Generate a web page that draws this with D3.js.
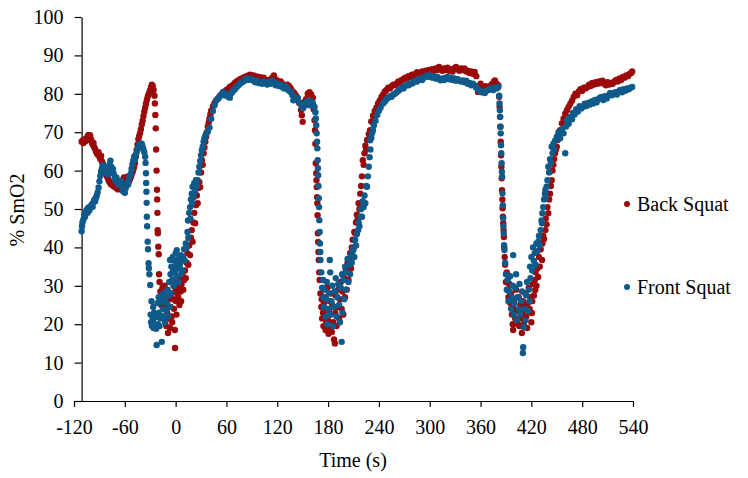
<!DOCTYPE html>
<html>
<head>
<meta charset="utf-8">
<script src="https://cdn.jsdelivr.net/npm/d3@7"></script>
<style>
  body { margin: 0; background: #fff; }
  text { font-family: "Palatino Linotype", "Book Antiqua", Palatino, "Liberation Serif", serif; }
</style>
</head>
<body>
<svg id="chart" width="748" height="478"></svg>
<script>
// [time (s), % SmO2]
const backSquat = [
  [-111,67.5],[-110,67.8],[-109,67.2],[-108,68.0],[-107,67.6],[-106,68.3],[-105,67.9],[-104,68.8],[-103,69.3],[-102,68.6],
  [-101,69.2],[-100,68.2],[-99,67.5],[-98,66.8],[-97,67.2],[-96,66.0],[-95,65.6],[-94,65.0],[-93,64.6],[-92,64.2],
  [-91,64.8],[-90,63.6],[-89,63.0],[-88,63.8],[-87,62.4],[-86,61.8],[-85,61.0],[-84,60.2],[-83,59.6],[-82,59.0],
  [-81,58.6],[-80,58.0],[-79,57.4],[-78,57.0],[-77,56.7],[-76,56.4],[-75,56.8],[-74,56.2],[-73,55.9],[-72,56.3],
  [-71,55.6],[-70,55.8],[-69,55.4],[-68,55.1],[-67,55.6],[-66,55.3],[-65,55.9],[-64,56.4],[-63,57.0],[-62,57.6],
  [-61,58.2],[-60,57.4],[-59,57.0],[-58,57.8],[-57,58.4],[-56,57.6],[-55,57.2],[-54,57.8],[-53,58.3],[-52,59.0],
  [-51,59.6],[-50,60.2],[-49,61.0],[-48,62.0],[-47,63.6],[-46,65.4],[-45,66.8],[-44,68.2],[-43,69.0],[-42,69.8],
  [-41,70.8],[-40,72.0],[-39,73.0],[-38,74.2],[-37,75.4],[-36,76.4],[-35,77.4],[-34,78.4],[-33,79.2],[-32,79.8],
  [-31,80.4],[-30,81.0],[-29,81.8],[-28,82.4],[-27,82.0],[-26,81.0],
  [-25,79.5],[-24.5,77.5],[-24,74.5],[-23.5,71],[-23,65.5],[-22.5,60],[-22,55],[-21.8,52.5],[-21.5,49],[-21.2,44.5],
  [-21,43.7],[-20.5,40.2],[-20,38.2],[-19.6,33],[-19,31],
  [-18,28.5],[-17,25],[-16,22],[-15.5,29.5],[-15,26],[-14,24],[-13,30],[-12.5,21],[-12,27.5],[-11,19.5],
  [-10.5,25],[-10,23],[-9,17.7],[-8.5,26.5],[-8,21.5],[-7,27],[-6.5,19],[-6,24.5],[-5,28],[-4.5,22],
  [-4,20.5],[-3,26.5],[-2.5,30],[-2,24],[-1,18.5],[-0.7,13.8],[0,29],[0.5,26],[1,22.5],[2,28],
  [2.5,31],[3,27],[4,30],[4.5,25],[5,32],[6,28.5],[6.5,26],[7,30.5],[8,33],[9,29],
  [10,31.5],[11,34],[12,32],[13,36],[14,38.5],[15,35.5],[16,40.5],[17,38],[18,42.5],[19,44.5],
  [20,41.5],[21,46.5],[22,49],[23,46.3],[24,51],[25,53.5],[26,51.5],[27,55.5],[28,57],[29,55.7],
  [30,59.5],[31,62.7],[32,61.5],[33,64.5],[34,66],[35,67.5],[36,68.8],[37,70],[38,71.5],[39,72.5],
  [40,73.5],[41,74.6],[42,75.6],[44,76.8],[46,77.6],[48,78.3],[50,78.8],[52,79.4],[54,79.8],[56,80.2],
  [58,80.6],[60,81.0],[62,81.2],[64,81.8],[66,82.0],[68,82.4],[70,82.8],[72,83.2],[74,83.5],[76,83.8],
  [78,84.0],[80,84.2],[82,84.4],[84,84.6],[86,84.8],[88,85.0],[90,84.6],[92,84.8],[94,84.2],[96,84.5],
  [98,84.0],[100,84.3],[102,83.8],[104,84.2],[106,83.6],[108,83.2],[110,83.6],[112,83.0],[114,84.2],[116,84.8],
  [118,83.8],[120,83.4],[122,82.8],[124,83.2],[126,82.6],[128,82.0],[130,81.6],[132,82.4],[134,82.0],[136,81.4],
  [138,80.6],[140,80.2],[142,79.6],[144,78.8],[146,77.6],[148,75.8],[149,74.4],[150,72.7],[151,76.5],[152,77.8],
  [154,78.6],[156,80.0],[158,80.4],[160,79.8],[162,79.0],[163,76.0],
  [164,73.1],[164.5,70.5],[165,67],[165.5,61.9],[166,59.3],[166.3,57.5],[166.6,55.7],[167,53.1],[167.3,51.5],[167.6,48.4],
  [168,43.7],[168.3,41.4],[168.6,38.8],[169,36.7],[169.5,33.5],[170,31.5],
  [171,28],[172,24.5],[172.5,26.5],[173,21.5],[174,23],[174.5,19.5],[175,25.5],[176,22],[176.5,27],[177,18.5],
  [178,20.5],[178.5,24],[179,29.5],[180,21],[180.5,17.5],[181,23.5],[182,26],[182.5,19],[183,22.5],[184,28],
  [184.5,18],[185,25],[186,20.5],[187,16],[188,15],[188.5,23],[189,27.5],[190,19.5],[191,24.5],[192,29],
  [193,21.5],[194,26.5],[195,31],[196,24],[197,28.5],[198,22.5],[199,32],[200,27],[201,34],[202,29],
  [203,36],[204,31.5],[205,37],[206,38.5],[207,34.5],[208,40],[209,42],[210,39.5],[211,44],[212,43.7],
  [213,46.5],[214,48.5],[215,47.3],[216,51.5],[217,50],[218,54],[219,56],[220,58.5],[221,62.7],[222,61.5],
  [223,64.5],[224,66.5],[225,65.5],[226,68],[228,69.5],[229.6,70.5],[231,72.8],[233,74.3],[235,75.5],[237,76.4],
  [239,77.5],[241,78.3],[243,79.2],[245,79.8],[247,80.6],[249,81.0],[251,81.6],[253,81.4],[255,82.0],[257,82.4],
  [259,82.2],[261,82.7],[263,83.2],[265,83.0],[267,83.6],[269,83.8],[271,84.2],[273,84.0],[275,84.6],[277,84.4],
  [279,85.0],[281,84.8],[283,85.2],[285,85.6],[287,85.0],[289,85.3],[291,85.8],[293,85.4],[295,86.0],[297,85.6],
  [299,86.2],[301,85.8],[303,86.4],[305,86.0],[307,86.6],[309,86.2],[311,87.0],[313,86.4],[315,86.0],[317,86.6],
  [319,86.2],[321,86.8],[323,86.0],[325,86.4],[327,85.8],[329,86.6],[331,87.0],[333,86.4],[335,86.0],[337,86.6],
  [339,86.2],[341,86.6],[343,85.8],[345,86.0],[347,85.4],[349,85.8],[351,85.2],[353,85.7],[355,84.6],[357,80.5],
  [358,82.0],[360,82.6],[362,81.8],[364,81.4],[366,82.0],[368,81.6],[370,81.8],[372,82.2],[374,82.6],[376,83.2],
  [377,83.5],[379,82.6],[381,82.2],
  [382,79.2],[382.5,76.6],[383,74],[383.4,71.4],[383.8,67.5],[384.2,64],[384.6,61],[385,58],[385.4,54.9],[385.8,52.5],
  [386,50.2],[386.4,48],[386.8,46.3],[387.2,44.5],[387.6,42.7],[388,40],[388.5,37.5],
  [389,35.5],[390,31],[391,33.5],[392,29],[393,27],[394,30.5],[395,25.5],[396,28],[397,22.5],[398,20],
  [398.5,18.5],[399,24],[400,26.5],[401,21.5],[402,29],[403,23.5],[404,20],[405,27],[406,19.5],[407,25],
  [408,21.5],[408.8,17.7],[409.5,23],[410,26],[411,20],[412,24.5],[413,28],[414,22],[415,19],[416,25.5],
  [417,29.5],[418,24],[419,27],[420,20.5],[420.6,22.9],[421,26],[422,30.5],[423,27.5],[424,31.5],[424.6,28.9],
  [425,33.5],[426,30],[427,34.5],[428,32.3],[429,37.5],[430,35],[431,39.5],[432.6,36.7],[433,41],[434,43],
  [435,42.2],[436.6,44.5],[437,47.5],[438,46],[439,50.5],[440,48.9],[441,52.5],[442,54],[443,56],[444,57.5],
  [445,60],[446,61.5],[447,63],[448,64.5],[449,65.5],[450,66.2],[451,68],[452,69],[454,70.5],[456,72.3],
  [458,73.5],[460,74.8],[462,75.7],[464,76.6],[466,77.4],[468,78.2],[470,79.2],[472,80],[474,79.6],[476,80.6],
  [478,81.2],[480,80.8],[482,81.6],[484,81.4],[486,81.8],[488,82.4],[490,82],[492,82.8],[494,82.4],[496,83],
  [498,82.6],[500,83.2],[502,82.8],[504,83.4],[506,82.6],[508,82.2],[510,83],[512,82.4],[514,82.8],[516,82.6],
  [518,83.2],[520,83.6],[522,83.2],[524,84],[526,83.6],[528,84.4],[530,84.2],[532,84.8],[534,84.6],[536,85.2],
  [538,85.4],[539,85.8]
];

const frontSquat = [
  [-111,44.2],[-110.5,45.5],[-110,46.5],[-109,47.2],[-108,48.4],[-107,48.0],[-106,49.2],[-105,49.8],[-104,49.0],[-103,50.4],
  [-102,49.6],[-101,50.2],[-100,50.8],[-99,51.2],[-98,50.6],[-97,51.8],[-96,52.4],[-95,52.0],[-94,53.0],[-93,53.6],
  [-92,54.4],[-91,55.6],[-90,57.2],[-89,58.6],[-88,59.8],[-87,60.6],[-86,61.4],[-85,60.2],[-84,59.4],[-83,60.8],
  [-82,59.6],[-81,60.0],[-80,59.0],[-79,60.6],[-78,61.6],[-77,62.6],[-76,61.0],[-75,59.8],[-74,60.4],[-73,59.2],
  [-72,58.0],[-71,57.4],[-70,58.2],[-69,57.0],[-68,56.4],[-67,57.2],[-66,56.6],[-65,57.4],[-64,56.2],[-63,55.6],
  [-62,54.6],[-61,55.2],[-60,54.2],[-59,55.4],[-58,56.2],[-57,57.0],[-56,56.4],[-55,57.8],[-54,58.6],[-53,59.2],
  [-52,60.4],[-51,61.6],[-50,62.6],[-49,63.6],[-48,62.8],[-47,64.2],[-46,64.8],[-45,65.4],[-44,66.0],[-43,66.6],
  [-42,67.0],[-41,66.4],[-40,67.0],[-39,66.2],[-38,65.6],[-37,64.8],[-36,63.6],[-35.5,62.0],
  [-35,59.3],[-34.8,56.8],[-34.5,54.5],[-34.2,51.6],[-34,48],[-33.6,45.5],[-33,41.5],[-32.6,39.5],[-32,35.9],[-31.6,34.6],
  [-31,33],
  [-30,30.2],[-29.5,22.5],[-29,20.5],[-28.5,26],[-28,19.5],[-27.5,22],[-27,21],[-26.5,24.5],[-26,19],[-25.5,23],
  [-25,20],[-24,21.8],[-23,18.8],[-22.4,14.6],[-22,22.5],[-21.5,25.5],[-21,20],[-20,27],[-19.5,23],[-19,19.5],
  [-18,21.5],[-17,25.8],[-16.4,15.4],[-16,26.3],[-15,24],[-14.5,28],[-14,22],[-13,26.5],[-12.5,20.5],[-12,27],
  [-11,23.5],[-10,25.5],[-9.5,29],[-9,22],[-8,27.5],[-7.5,31],[-7,24.5],[-6.6,36.7],[-6,33],[-5.5,28],
  [-5,35],[-4,31.5],[-3.5,37.5],[-3,34],[-2,30],[-1.5,36.5],[-1,33.5],[0,38.5],[0.5,35],[1,32.3],
  [1.3,39.3],[2,36],[3,34.5],[3.5,31],[4,37.2],[5,35.5],[6,38],[6.5,33],[7,36.5],[8,34],
  [9,37.5],[10,39.5],[11,36.5],[12,41],[13,40],[14,44],[14.6,47],[15,42.5],[16,49],[17,50.5],
  [17.5,47.5],[18,52.5],[19,54],[19.5,51.5],[20,55.8],[21,53],[22,56.7],[23,54.5],[24,57.5],[25,56],
  [26,57.5],[27,59.5],[28,61],[29,62.5],[30,64],[31,65.3],[32,66.2],[33,67.5],[34,68.4],[35,69],
  [36,69.6],[38,70.2],[40,71.2],[42,73.5],[44,75.5],[46,77.0],[48,78.3],[50,78.8],[52,79.2],[54,79.8],
  [56,80.5],[58,79.6],[60,79.8],[62,79.2],[64,79.0],[66,80.2],[68,80.8],[70,81.2],[72,81.8],[74,82.2],
  [76,82.6],[78,83.0],[80,83.2],[82,83.6],[84,84.0],[86,83.6],[88,84.0],[90,83.8],[92,83.4],[94,83.0],
  [96,83.4],[98,82.8],[100,83.0],[102,82.6],[104,83.2],[106,82.8],[108,82.4],[110,83.0],[112,82.6],[114,83.4],
  [116,83.0],[118,82.2],[120,82.6],[122,82.0],[124,82.4],[126,81.8],[128,81.4],[130,82.0],[132,81.2],[134,80.8],
  [136,80.4],[138,79.6],[139,78.3],[140,79.0],[142,78.4],[144,79.0],[146,77.8],[148,77.2],[150,76.2],[152,77.0],
  [154,77.6],[156,78.2],[158,77.0],[159,77.4],[160,78.0],[162,77.6],[164,76.6],[165,75.2],
  [165.5,73.6],[166,71.8],[166.5,69.7],[167,67.5],[167.3,65.8],[167.7,62.7],[168,60.6],[168.3,58.8],[168.7,56],[169,52.8],
  [169.3,50.5],[169.6,47.1],[170,44],[170.4,41],[170.8,38.8],[171,36.7],
  [172,33.5],[173,29.5],[174,31.5],[174.5,27],[175,24.5],[176,29],[177,22],[178,26.5],[178.5,31],[179,20],
  [180,24],[181,28],[182,36.7],[182.5,33.5],[183,22.5],[184,26],[185,30],[186,19.5],[187,24.5],[188,28.5],
  [189,32],[190,22],[191,27],[192,30.5],[193,25],[194,20.5],[195,29.5],[196,15.4],[196.5,33],[197,23],
  [198,31.5],[199,26.5],[200,35],[201,29],[202,33.5],[203,37],[204,31],[205,35.5],[206,33],[207,38],
  [208,36],[209,39],[210,40],[211,37.5],[212,42],[213,40.5],[214,43.5],[215.5,44.5],[216,46.5],[217,45.5],
  [218,48],[219,50],[220,48],[221,52],[222,50.5],[223,53.5],[224,51.5],[225,56],[226,55.8],[227,58.5],
  [228,61],[229,63.5],[229.6,67.9],[230,65.5],[231,68.5],[232,69.8],[233,70.5],[234,71.8],[236,73],[238,74.5],
  [240,75.6],[242,76.4],[245,77.5],[247,78.0],[249,78.6],[251,79.0],[253,79.4],[255,79.2],[257,79.8],[259,80.0],
  [261,80.4],[263,80.8],[265,81.2],[267,81.6],[269,81.4],[271,82.0],[273,82.4],[275,82.2],[277,82.6],[279,82.7],
  [281,83.0],[283,83.4],[285,83.2],[287,83.8],[289,84.0],[291,83.6],[293,84.2],[295,84.6],[297,84.8],[299,84.4],
  [301,84.8],[303,84.2],[305,84.6],[307,84.0],[309,84.4],[311,83.8],[313,83.5],[315,84.0],[317,83.6],[319,84.2],
  [321,84.4],[323,83.8],[325,84.2],[327,83.6],[329,84.0],[331,83.4],[333,83.8],[335,83.5],[337,83.2],[339,83.5],
  [341,83.0],[343,83.4],[345,82.6],[347,82.8],[349,82.2],[351,82.6],[353,82.2],[355,81.6],[357,81.2],[359,80.8],
  [361,80.4],[363,80.5],[365,80.2],[367,80.8],[369,81.0],[371,81.2],[373,81.4],[375,81.0],[377,81.6],[379,81.4],
  [381,81.8],
  [382,79.5],[382.4,77.5],[382.8,75.7],[383.2,74],[383.5,71.4],[383.8,69.7],[384.2,66.6],[384.5,64.5],[384.9,61.9],[385.2,59.7],
  [385.5,58.4],[385.9,54.1],[386.3,51],[386.7,47.6],[387,45.5],[387.4,43.7],[387.8,40.6],[388.2,39.3],
  [389,36],[390,33],[391,29],[392,31.5],[393,26],[394,28.5],[395,32.5],[396,24],[397,27],[398,30],
  [398.5,38],[399,22.5],[400,25.5],[401,29.5],[402,33],[403,21],[404,27],[405,24],[406,30.5],[407,22.5],
  [408,26],[409,28.5],[410,12.5],[410.3,14],[411,19.3],[412,24],[413,21],[414,27.5],[415,31],[416,23.5],
  [417,29],[418,26],[418.5,35],[419,32],[420,37.5],[421,34],[422,40],[423,36.5],[424,38.5],[425,35.5],
  [426,41],[427,39],[428,41.5],[429,43],[430,40.5],[431,44.5],[432,47],[432.6,46.3],[433,48.9],[434,50.5],
  [435,52.5],[436,54],[436.6,55],[437,53],[438,55.8],[439,57.5],[440,61],[441,59.5],[442,63],[443,62],
  [444,66.2],[445,64.5],[446,67],[447,65.5],[448,67.8],[450,68.8],[452,70],[454,68.4],[456,70.8],[458,69.7],
  [460,64.5],[461,71.5],[462,73.1],[464,72.2],[466,74],[468,73.4],[469,75],[471,74.6],[473,76],[475,75.4],
  [477,76.8],[479,76.2],[481,76.6],[483,77.4],[485,76.8],[487,77.6],[489,77.2],[491,78],[493,77.5],[495,78.4],
  [497,77.8],[499,78.6],[501,79],[503,79.2],[505,78.4],[507,79.4],[509,78.8],[511,79.6],[513,80.2],[515,79.6],
  [517,80],[519,80.4],[521,79.8],[523,80.6],[525,81],[527,80.4],[529,81.2],[531,80.8],[533,81.4],[535,81.2],
  [537,81.6],[539,81.8]
];

const seriesNames = ["Back Squat", "Front Squat"];
const seriesColors = ["#9b0a0a", "#0f5a8a"];
const xTicks = [-120, -60, 0, 60, 120, 180, 240, 300, 360, 420, 480, 540];
const yTicks = [0, 10, 20, 30, 40, 50, 60, 70, 80, 90, 100];

const svg = d3.select("#chart");

const x = d3.scaleLinear().domain([-120, 540]).range([74, 633]);
const y = d3.scaleLinear().domain([0, 100]).range([401, 17]);

// y axis sits a little right of the -120 tick, like the original
const yAxisAt = -111;
const fmt = d => String(d); // plain hyphen for negatives

const xAxis = svg.append("g")
  .attr("transform", "translate(0," + y(0) + ")")
  .call(d3.axisBottom(x).tickValues(xTicks).tickFormat(fmt).tickSize(6).tickSizeOuter(0).tickPadding(13));

const yAxis = svg.append("g")
  .attr("transform", "translate(" + x(yAxisAt) + ",0)")
  .call(d3.axisLeft(y).tickValues(yTicks).tickFormat(fmt).tickSize(7).tickSizeOuter(0).tickPadding(11));

[xAxis, yAxis].forEach(g => {
  g.selectAll("path, line").attr("stroke", "#000").attr("stroke-width", 1.2);
  g.selectAll("text").attr("fill", "#000").style("font-size", "20px")
    .style("font-family", "'Palatino Linotype', 'Book Antiqua', Palatino, 'Liberation Serif', serif");
});

// points
[backSquat, frontSquat].forEach((data, i) => {
  svg.append("g")
    .selectAll("circle")
    .data(data)
    .join("circle")
    .attr("cx", d => x(d[0]))
    .attr("cy", d => y(d[1]))
    .attr("r", 3.2)
    .attr("fill", seriesColors[i]);
});

// axis titles
svg.append("text")
  .attr("x", 353).attr("y", 467)
  .attr("text-anchor", "middle")
  .style("font-size", "20px")
  .text("Time (s)");

svg.append("text")
  .attr("transform", "translate(24,210) rotate(-90)")
  .attr("text-anchor", "middle")
  .style("font-size", "20px")
  .text("% SmO2");

// legend
const legend = svg.append("g");
seriesNames.forEach((name, i) => {
  const ly = 204 + i * 83;
  legend.append("circle").attr("cx", 627).attr("cy", ly).attr("r", 3).attr("fill", seriesColors[i]);
  legend.append("text").attr("x", 637).attr("y", ly).attr("dy", "0.35em")
    .style("font-size", "20px").text(name);
});
</script>
</body>
</html>
